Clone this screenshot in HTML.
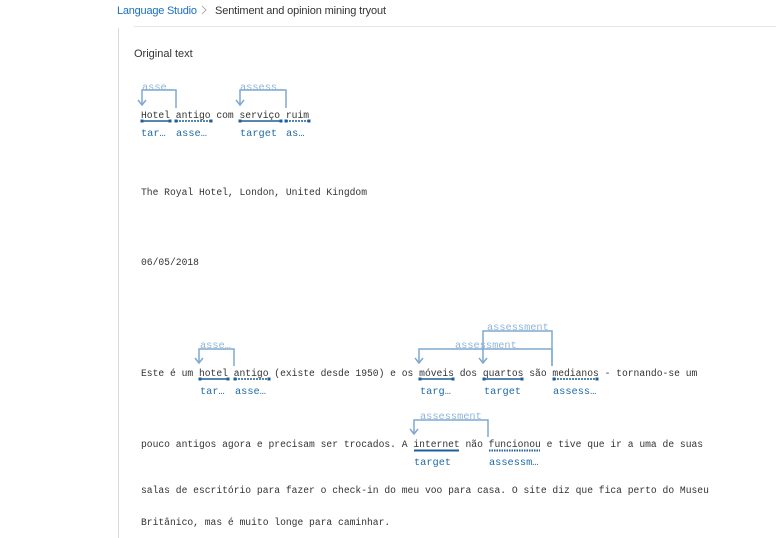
<!DOCTYPE html>
<html><head><meta charset="utf-8"><style>
body{margin:0;background:#fff;width:776px;height:538px;overflow:hidden}
svg{display:block}
.m{font-family:"Liberation Mono",monospace;font-size:9.67px;fill:#333}
.l{font-family:"Liberation Mono",monospace;font-size:10.3px;fill:#1f6aa5}
.a{font-family:"Liberation Mono",monospace;font-size:10.3px;fill:#8fb5d8}
.br{fill:none;stroke:#7ea9d1;stroke-width:1.5}
.t{stroke:#1f5f99;stroke-width:1.5}
.d{stroke:#1f5f99;stroke-width:1.5;stroke-dasharray:2 1}
.s{fill:#1f5f99}
</style></head><body>
<svg width="776" height="538" xmlns="http://www.w3.org/2000/svg">
<text x="117" y="14" font-family="Liberation Sans,sans-serif" font-size="11" textLength="80" fill="#1a6fc0">Language Studio</text>
<path d="M202,6L206,10L202,14" fill="none" stroke="#999" stroke-width="0.8"/>
<text x="215" y="14" font-family="Liberation Sans,sans-serif" font-size="11" textLength="171" fill="#333">Sentiment and opinion mining tryout</text>
<line x1="134" y1="26.5" x2="776" y2="26.5" stroke="#e6e6e6"/>
<line x1="118.5" y1="28" x2="118.5" y2="538" stroke="#d8d8d8"/>
<text x="134" y="57" font-family="Liberation Sans,sans-serif" font-size="11" fill="#333">Original text</text>

<!-- line 1 -->
<text class="a" x="142" y="90">asse…</text>
<text class="a" x="240" y="90">assess…</text>
<path class="br" d="M176,108V90H142V105M138,100L142,105L146,100"/>
<path class="br" d="M286,108V90H240V105M236,100L240,105L244,100"/>
<text class="m" x="141" y="118">Hotel antigo com serviço ruim</text>
<line class="t" x1="142" y1="121" x2="170" y2="121"/><rect class="s" x="140.5" y="119.5" width="3" height="3"/><rect class="s" x="168.5" y="119.5" width="3" height="3"/>
<line class="d" x1="176" y1="121" x2="211" y2="121"/><rect class="s" x="174.5" y="119.5" width="3" height="3"/><rect class="s" x="209.5" y="119.5" width="3" height="3"/>
<line class="t" x1="240" y1="121" x2="281" y2="121"/><rect class="s" x="238.5" y="119.5" width="3" height="3"/><rect class="s" x="279.5" y="119.5" width="3" height="3"/>
<line class="d" x1="286" y1="121" x2="309" y2="121"/><rect class="s" x="284.5" y="119.5" width="3" height="3"/><rect class="s" x="307.5" y="119.5" width="3" height="3"/>
<text class="l" x="141" y="136">tar…</text><text class="l" x="176" y="136">asse…</text><text class="l" x="240" y="136">target</text><text class="l" x="286" y="136">as…</text>

<text class="m" x="141" y="195">The Royal Hotel, London, United Kingdom</text>
<text class="m" x="141" y="265">06/05/2018</text>

<!-- line 4 -->
<text class="a" x="200" y="348">asse…</text>
<text class="a" x="455" y="348">assessment</text>
<text class="a" x="487" y="330">assessment</text>
<path class="br" d="M234,366V349H199V363M195,358L199,363L203,358"/>
<path class="br" d="M552,366V349H419V363M415,358L419,363L423,358"/>
<path class="br" d="M552,366V331H483V363M479,358L483,363L487,358"/>
<text class="m" x="141" y="376">Este é um hotel antigo (existe desde 1950) e os móveis dos quartos são medianos - tornando-se um</text>
<line class="t" x1="200" y1="379" x2="228" y2="379"/><rect class="s" x="198.5" y="377.5" width="3" height="3"/><rect class="s" x="226.5" y="377.5" width="3" height="3"/>
<line class="d" x1="235" y1="379" x2="269" y2="379"/><rect class="s" x="233.5" y="377.5" width="3" height="3"/><rect class="s" x="267.5" y="377.5" width="3" height="3"/>
<line class="t" x1="420" y1="379" x2="453" y2="379"/><rect class="s" x="418.5" y="377.5" width="3" height="3"/><rect class="s" x="451.5" y="377.5" width="3" height="3"/>
<line class="t" x1="484" y1="379" x2="522" y2="379"/><rect class="s" x="482.5" y="377.5" width="3" height="3"/><rect class="s" x="520.5" y="377.5" width="3" height="3"/>
<line class="d" x1="554" y1="379" x2="597" y2="379"/><rect class="s" x="552.5" y="377.5" width="3" height="3"/><rect class="s" x="595.5" y="377.5" width="3" height="3"/>
<text class="l" x="200" y="394">tar…</text><text class="l" x="235" y="394">asse…</text><text class="l" x="420" y="394">targ…</text><text class="l" x="484" y="394">target</text><text class="l" x="553" y="394">assess…</text>

<!-- line 5 -->
<text class="a" x="420" y="419">assessment</text>
<path class="br" d="M488,437V420H414V434M410,429L414,434L418,429"/>
<text class="m" x="141" y="447">pouco antigos agora e precisam ser trocados. A internet não funcionou e tive que ir a uma de suas</text>
<line x1="414" y1="450.5" x2="459" y2="450.5" stroke="#1f5f99" stroke-width="2"/>
<line x1="489" y1="450.5" x2="540" y2="450.5" stroke="#1f5f99" stroke-width="2" stroke-dasharray="1.5 1"/>
<text class="l" x="414" y="465">target</text><text class="l" x="489" y="465">assessm…</text>

<text class="m" x="141" y="493">salas de escritório para fazer o check-in do meu voo para casa. O site diz que fica perto do Museu</text>
<text class="m" x="141" y="525">Britânico, mas é muito longe para caminhar.</text>
</svg>
</body></html>
